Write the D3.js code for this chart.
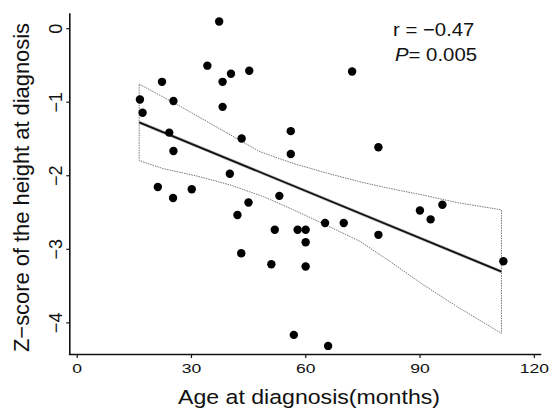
<!DOCTYPE html>
<html>
<head>
<meta charset="utf-8">
<script src="https://cdn.jsdelivr.net/npm/d3@7"></script>
<style>
  body { margin: 0; background: #fff; }
  svg { display: block; font-family: "Liberation Sans", Arial, sans-serif; }
</style>
</head>
<body>
<script>
// age at diagnosis (months) and height z-score, one entry per patient
var ageMonths = [16.6, 17.3, 22.4, 25.4, 24.3, 25.4, 21.3, 25.3, 30.2, 34.3,
                 37.4, 38.3, 38.3, 40.5, 45.3, 43.3, 40.2, 45.1, 42.2, 43.2,
                 53.2, 52.0, 51.1, 56.2, 56.2, 58.0, 60.1, 60.1, 60.1, 57.0,
                 66.0, 65.2, 70.1, 72.3, 79.2, 79.2, 90.1, 92.9, 96.0, 112.0];
var zScore = [-0.97, -1.15, -0.73, -0.99, -1.42, -1.67, -2.16, -2.31, -2.19, -0.51,
              0.09, -0.73, -1.07, -0.62, -0.58, -1.50, -1.98, -2.37, -2.54, -3.06,
              -2.28, -2.74, -3.21, -1.40, -1.71, -2.74, -2.74, -2.91, -3.24, -4.17,
              -4.32, -2.65, -2.65, -0.59, -1.62, -2.81, -2.48, -2.60, -2.40, -3.17];

// fitted line ends
var fitAge = [16.4, 111.5];
var fitZ = [-1.28, -3.31];

// confidence band
var upperAge = [16.4, 27.1, 35.9, 48.1, 56.9, 65.6, 74.4, 82.2, 91.0, 99.7, 111.5];
var upperZ = [-0.76, -1.06, -1.32, -1.68, -1.84, -1.97, -2.09, -2.18, -2.27, -2.37, -2.47];
var lowerAge = [16.4, 22.7, 31.5, 40.2, 49.0, 56.9, 65.6, 74.4, 82.2, 91.0, 99.7, 111.5];
var lowerZ = [-1.80, -1.91, -2.01, -2.13, -2.29, -2.47, -2.68, -2.90, -3.17, -3.49, -3.78, -4.15];

var xTicks = [0, 30, 60, 90, 120];
var yTicks = [0, -1, -2, -3, -4];

var width = 558, height = 409;

var svg = d3.select("body").append("svg")
    .attr("width", width)
    .attr("height", height);

var x = d3.scaleLinear().domain([-2.2, 121.8]).range([68.3, 540.7]);
var y = d3.scaleLinear().domain([-4.43, 0.21]).range([354, 12.7]);

// axes
var xAxis = svg.append("g")
    .attr("transform", "translate(0,354)")
    .call(d3.axisBottom(x).tickValues(xTicks).tickSize(4).tickSizeOuter(0));
xAxis.select(".domain").attr("stroke", "#111").attr("stroke-width", 1.6);
xAxis.selectAll(".tick line").attr("stroke", "#111").attr("stroke-width", 1.2);
xAxis.selectAll(".tick text")
    .attr("y", 0).attr("dy", 0)
    .attr("transform", "translate(0,19) scale(1.35,1)")
    .attr("font-size", 13)
    .attr("font-family", "Liberation Sans, Arial, sans-serif")
    .attr("fill", "#111");

var yAxis = svg.append("g")
    .attr("transform", "translate(69.3,0)")
    .call(d3.axisLeft(y).tickValues(yTicks).tickSize(3).tickSizeOuter(0)
      .tickFormat(function(d) { return d < 0 ? "\u2212" + Math.abs(d) : d; }));
yAxis.select(".domain").attr("stroke", "#111").attr("stroke-width", 1.6);
yAxis.selectAll(".tick line").attr("stroke", "#111").attr("stroke-width", 1.2);
yAxis.selectAll(".tick text")
    .attr("x", 0).attr("dy", 0)
    .attr("transform", "translate(-7.5,0) rotate(-90)")
    .attr("text-anchor", "middle")
    .attr("font-size", 18)
    .attr("font-family", "Liberation Sans, Arial, sans-serif")
    .attr("fill", "#111");

// confidence band outline
var bandPts = upperAge.map(function(a, i) { return [a, upperZ[i]]; });
for (var i = lowerAge.length - 1; i >= 0; i--) {
  bandPts.push([lowerAge[i], lowerZ[i]]);
}
var line = d3.line()
    .x(function(d) { return x(d[0]); })
    .y(function(d) { return y(d[1]); });

svg.append("path")
    .datum(bandPts)
    .attr("d", function(d) { return line(d) + "Z"; })
    .attr("fill", "none")
    .attr("stroke", "#777")
    .attr("stroke-width", 1)
    .attr("stroke-dasharray", "1.5,1");

// fitted line
svg.append("path")
    .datum(fitAge.map(function(a, i) { return [a, fitZ[i]]; }))
    .attr("d", line)
    .attr("fill", "none")
    .attr("stroke", "#bbb")
    .attr("stroke-width", 3.2);
svg.append("path")
    .datum(fitAge.map(function(a, i) { return [a, fitZ[i]]; }))
    .attr("d", line)
    .attr("fill", "none")
    .attr("stroke", "#111")
    .attr("stroke-width", 1.8);

// points
svg.selectAll("circle.pt")
    .data(ageMonths)
    .enter()
    .append("circle")
    .attr("class", "pt")
    .attr("cx", function(d) { return x(d); })
    .attr("cy", function(d, i) { return y(zScore[i]); })
    .attr("r", 4.2)
    .attr("fill", "#000");

// stats
svg.append("text")
    .attr("transform", "translate(393,36) scale(1.1,1)")
    .attr("font-size", 18.5)
    .attr("fill", "#111")
    .text("r = \u22120.47");
var pText = svg.append("text")
    .attr("transform", "translate(395,61) scale(1.1,1)")
    .attr("font-size", 18.5)
    .attr("fill", "#111");
pText.append("tspan").attr("font-style", "italic").text("P");
pText.append("tspan").text("= 0.005");

// axis titles
svg.append("text")
    .attr("x", 309)
    .attr("y", 404)
    .attr("text-anchor", "middle")
    .attr("font-size", 20.5)
    .attr("textLength", 262)
    .attr("lengthAdjust", "spacingAndGlyphs")
    .attr("fill", "#111")
    .text("Age at diagnosis(months)");

svg.append("text")
    .attr("transform", "translate(29,187.5) rotate(-90)")
    .attr("text-anchor", "middle")
    .attr("font-size", 21.5)
    .attr("textLength", 329)
    .attr("lengthAdjust", "spacingAndGlyphs")
    .attr("fill", "#111")
    .text("Z\u2212score of the height at diagnosis");
</script>
</body>
</html>
